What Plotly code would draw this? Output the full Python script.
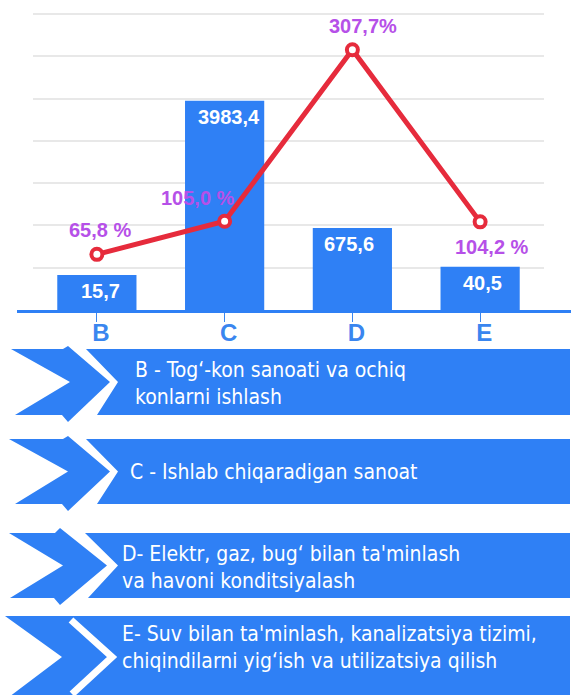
import plotly.graph_objects as go

# ---------------- data ----------------
categories = ["B", "C", "D", "E"]
bar_values = [15.7, 3983.4, 675.6, 40.5]          # values printed on bars
bar_heights = [0.83, 4.95, 1.94, 1.02]             # drawn bar heights (grid units)
pct_values = [65.8, 105.0, 307.7, 104.2]           # growth rate, %
pct_labels = ["65,8 %", "105,0 %", "307,7%", "104,2 %"]
banner_texts = [
    "B - Tog‘-kon sanoati va ochiq<br>konlarni ishlash",
    "C - Ishlab chiqaradigan sanoat",
    "D- Elektr, gaz, bug‘ bilan ta'minlash<br>va havoni konditsiyalash",
    "E- Suv bilan ta'minlash, kanalizatsiya tizimi,<br>chiqindilarni yig‘ish va utilizatsiya qilish",
]

W, H = 571, 695
BLUE = "#2F80F5"
RED = "#E62B3C"
PURPLE = "#B650E8"
TICKBLUE = "#3A86EF"

YMAX = 7.03          # left axis top (grid units)
UNIT = 42.29         # px per grid unit
Y2MAX = 350 * YMAX / 7


def px(x):
    return x / W


def py(y):
    return 1 - y / H


def fmt(v):
    return f"{v:.1f}".replace(".", ",")


fig = go.Figure()
fig.add_trace(go.Bar(
    x=categories, y=bar_heights, marker=dict(color=BLUE, line=dict(width=0)),
    width=0.62, yaxis="y", hoverinfo="skip",
))
fig.add_trace(go.Scatter(
    x=categories, y=pct_values, yaxis="y2", mode="lines+markers",
    line=dict(color=RED, width=5),
    marker=dict(size=11, color="white", line=dict(color=RED, width=4)),
    cliponaxis=False, hoverinfo="skip",
))

annotations = []
bar_xshift = [4, 4, -3, 2]
for c, h, v, xs in zip(categories, bar_heights, bar_values, bar_xshift):
    annotations.append(dict(
        x=c, y=h, xref="x", yref="y", text=fmt(v), showarrow=False,
        yanchor="top", yshift=-3, xshift=xs,
        font=dict(family="Liberation Sans, Arial", size=20, color="white", weight="bold"),
    ))
pct_shift = [(3, 24), (-27, 23), (11, 24), (12, -25)]
for c, v, t, (xs, ys) in zip(categories, pct_values, pct_labels, pct_shift):
    annotations.append(dict(
        x=c, y=v, xref="x", yref="y2", text=t, showarrow=False,
        xshift=xs, yshift=ys,
        font=dict(family="Liberation Sans, Arial", size=20, color=PURPLE, weight="bold"),
    ))

shapes = []
# baseline
shapes.append(dict(type="line", xref="paper", yref="paper",
                   x0=px(17), x1=px(571), y0=py(311.5), y1=py(311.5),
                   line=dict(color=BLUE, width=3), layer="above"))


def poly(points, color):
    d = "M " + " L ".join(f"{px(x):.5f},{py(y):.5f}" for x, y in points) + " Z"
    return dict(type="path", xref="paper", yref="paper", path=d,
                fillcolor=color, line=dict(width=0), layer="above")


def banner(top, bot, lt, lb, notch, peak, oh_t, oh_b, tip, rt, rtip, rb):
    mid = (top + bot) / 2
    arrow = [(lt, top), (peak - 5, top), (peak, top - oh_t), (tip, mid),
             (peak, bot + oh_b), (peak - 6, bot), (lb, bot), (notch, mid)]
    rect = [(rt, top), (570, top), (570, bot), (rb, bot), (rtip, mid)]
    return [poly(arrow, BLUE), poly(rect, BLUE)]


shapes += banner(349, 415, 11, 15, 70, 68, 3, 7, 110, 86, 118, 97)
shapes += banner(439, 504, 9, 15, 68, 68, 3, 7, 110, 86, 118, 97)
shapes += banner(533, 598, 9, 10, 63, 60, 5, 7, 107, 85, 118, 88)
# last banner: notched rectangle with white chevron
shapes.append(poly([(5, 616), (570, 616), (570, 700), (5, 700), (62, 657)], BLUE))
chev = f"M {px(71):.5f},{py(620):.5f} L {px(112):.5f},{py(657):.5f} L {px(72):.5f},{py(694):.5f}"
shapes.append(dict(type="path", xref="paper", yref="paper", path=chev,
                   line=dict(color="white", width=7), layer="above"))

banner_pos = [(133, 383), (128, 472), (120, 567), (120, 647)]
for t, (x, y) in zip(banner_texts, banner_pos):
    annotations.append(dict(
        x=px(x), y=py(y), xref="paper", yref="paper", text=t, showarrow=False,
        xanchor="left", yanchor="middle", align="left",
        font=dict(family="DejaVu Sans Condensed", size=21, color="white"),
    ))

fig.update_layout(
    width=W, height=H, margin=dict(l=0, r=0, t=0, b=0),
    paper_bgcolor="white", plot_bgcolor="white", showlegend=False,
    bargap=0.38,
    xaxis=dict(domain=[px(33), px(544)], range=[-0.5, 3.5], type="category",
               showgrid=False, zeroline=False, showline=False,
               ticks="outside", ticklen=11, tickcolor=TICKBLUE, tickwidth=1,
               tickfont=dict(family="Liberation Sans, Arial", size=24, color=TICKBLUE, weight="bold"),
               ticklabelshift=4, ticklabelstandoff=-10, fixedrange=True),
    yaxis=dict(domain=[py(310), py(310 - YMAX * UNIT)], range=[0, YMAX], dtick=1, showgrid=True,
               gridcolor="#E8E8E8", gridwidth=1.5, zeroline=False, showticklabels=False,
               showline=False, fixedrange=True),
    yaxis2=dict(overlaying="y", side="right", range=[0, Y2MAX], showgrid=False,
                zeroline=False, showticklabels=False, showline=False, fixedrange=True),
    shapes=shapes, annotations=annotations,
)

fig.write_html("out.html", config={"displayModeBar": False},
               post_script="document.body.style.margin='0';document.body.style.overflow='hidden';")
